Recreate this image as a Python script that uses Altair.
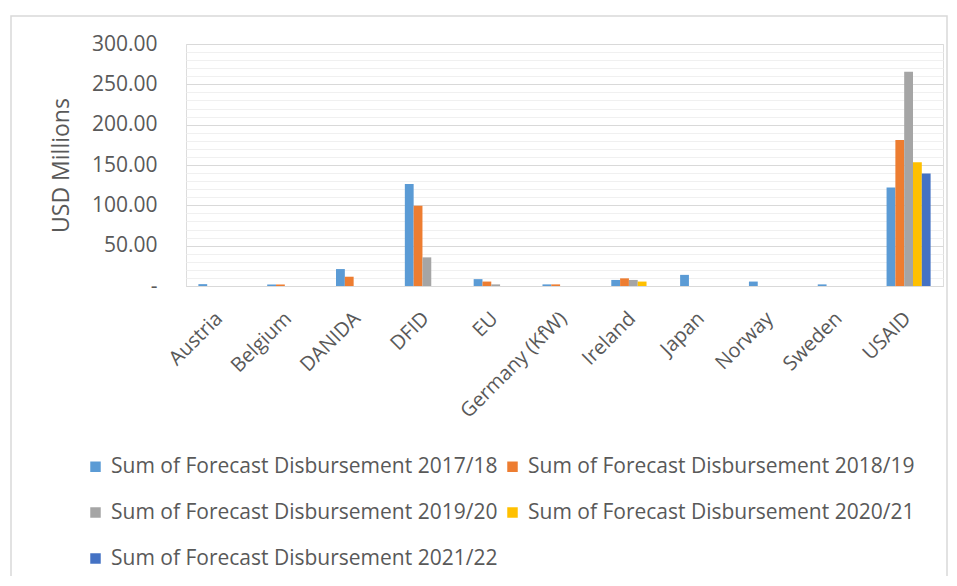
import altair as alt
import pandas as pd

categories = ["Austria", "Belgium", "DANIDA", "DFID", "EU", "Germany (KfW)",
              "Ireland", "Japan", "Norway", "Sweden", "USAID"]
series_names = ["Sum of Forecast Disbursement 2017/18",
                "Sum of Forecast Disbursement 2018/19",
                "Sum of Forecast Disbursement 2019/20",
                "Sum of Forecast Disbursement 2020/21",
                "Sum of Forecast Disbursement 2021/22"]
v2017 = [2.3, 2.0, 21.0, 126.5, 8.5, 2.0, 7.5, 13.8, 5.5, 2.0, 122.0]
v2018 = [0.0, 2.0, 11.5, 99.5, 5.5, 2.0, 9.5, 0.0, 0.0, 0.0, 181.0]
v2019 = [0.0, 0.0, 0.0, 35.5, 2.0, 0.0, 7.5, 0.0, 0.0, 0.0, 265.5]
v2020 = [0.0, 0.0, 0.0, 0.0, 0.0, 0.0, 5.5, 0.0, 0.0, 0.0, 153.5]
v2021 = [0.0, 0.0, 0.0, 0.0, 0.0, 0.0, 0.0, 0.0, 0.0, 0.0, 139.5]
colors = ["#5B9BD5", "#ED7D31", "#A5A5A5", "#FFC000", "#4472C4"]

rows = []
for name, vals in zip(series_names, [v2017, v2018, v2019, v2020, v2021]):
    for c, v in zip(categories, vals):
        rows.append({"Donor": c, "Series": name, "Value": v})
df = pd.DataFrame(rows)

# legend lays out column by column; order so rows read left-to-right
legend_order = [series_names[i] for i in (0, 2, 4, 1, 3)]
legend_colors = [colors[i] for i in (0, 2, 4, 1, 3)]

FONT = "Open Sans"
TXT = "#595959"

bars = alt.Chart(df).mark_bar().encode(
    x=alt.X("Donor:N", sort=categories,
            scale=alt.Scale(paddingInner=0.36, paddingOuter=0.18),
            axis=alt.Axis(title=None, labelAngle=-45, labelFontSize=20,
                          labelColor=TXT, labelFont=FONT, ticks=False,
                          domainColor="#d9d9d9", labelPadding=22, labelOffset=-8,
                          grid=False)),
    xOffset=alt.XOffset("Series:N", sort=series_names),
    y=alt.Y("Value:Q",
            scale=alt.Scale(domain=[0, 300], nice=False),
            axis=alt.Axis(title="USD Millions", titleFontSize=23,
                          titleFont=FONT, titleColor=TXT, titleFontWeight="normal",
                          values=list(range(0, 301, 10)),
                          labelExpr="datum.value % 50 === 0 ? (datum.value === 0 ? '-\u00a0\u00a0\u00a0' : format(datum.value, '.2f')) : ''",
                          labelFontSize=21, labelFont=FONT, labelColor=TXT,
                          labelPadding=29, ticks=False, domain=False,
                          titlePadding=18,
                          gridColor={"condition": {"test": "datum.value % 50 === 0", "value": "#d9d9d9"},
                                     "value": "#f0f0f0"})),
    color=alt.Color("Series:N",
                    scale=alt.Scale(domain=legend_order, range=legend_colors),
                    legend=alt.Legend(title=None, orient="none", legendX=-101, legendY=412,
                                      columns=2, symbolType="square", symbolSize=110,
                                      labelFontSize=21, labelFont=FONT, labelColor=TXT,
                                      labelLimit=600, rowPadding=24, columnPadding=4,
                                      labelOffset=5, symbolStrokeWidth=0)),
)

frame = alt.Chart(pd.DataFrame({"a": [0]})).mark_rect(
    fill=None, stroke="#d9d9d9", strokeWidth=1.5
).encode(
    x=alt.value(-175), x2=alt.value(761), y=alt.value(-28), y2=alt.value(560)
)

chart = alt.layer(frame, bars).properties(
    width=757, height=242,
    autosize=alt.AutoSizeParams(type="none"),
    padding={"left": 178, "top": 36, "right": 6, "bottom": 290},
).configure_view(stroke=None).configure(font=FONT, background="white")

chart.save("out.html", embed_options={"renderer": "svg", "actions": False})
